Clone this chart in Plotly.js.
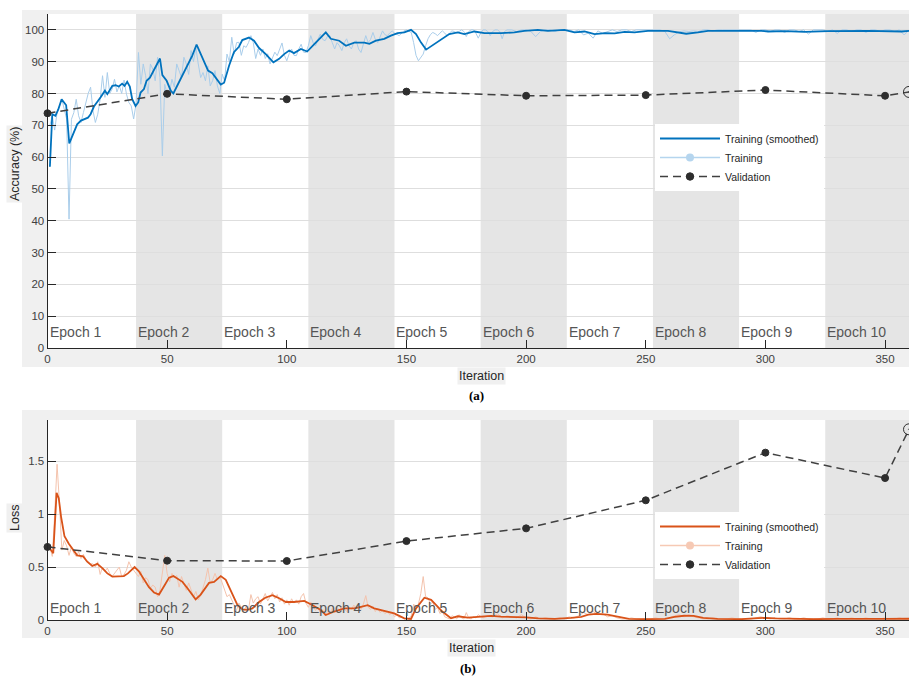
<!DOCTYPE html>
<html><head><meta charset="utf-8">
<script src="https://cdn.plot.ly/plotly-3.0.1.min.js"></script>
<style>html,body{margin:0;padding:0;background:#fff}#chart{width:909px;height:679px}</style>
</head><body><div id="chart"></div>
<script>
// ---------- data ----------
const epochNames = ['Epoch 1','Epoch 2','Epoch 3','Epoch 4','Epoch 5','Epoch 6','Epoch 7','Epoch 8','Epoch 9','Epoch 10'];
const epochStart = [1,37,73,109,145,181,217,253,289,325];
const epochEnd   = [37,73,109,145,181,217,253,289,325,361];
const xTicks = [0,50,100,150,200,250,300,350];
const accTicks = [0,10,20,30,40,50,60,70,80,90,100];
const lossTicks = [0,0.5,1,1.5];

// smoothed training accuracy (iteration, %)
const accSmIter = [1,2,3.3,4.5,5.9,7.8,9.1,10.5,12.4,14,15.9,16.9,18,19.4,22.2,24,25,27.1,28.5,29.8,31.2,32.2,33.3,34.4,35.4,36.8,37.9,38.9,40.3,41.4,42.8,44.5,47,48,49.8,51.5,52.6,54.3,56.4,58.5,60.5,62.3,64,65.4,67.1,68.9,70.7,72.4,73.8,75.9,77.9,80,81.4,84.2,86.3,88.4,91.2,92.6,94.4,96.8,98.9,101,103,105.9,108.5,112.1,116.3,118.4,121.9,124.7,128.2,132.4,134.5,137.2,140.7,143.5,146.3,149.1,151.9,154,156.1,158.2,161.6,164.4,167.9,171.4,174.2,178.4,182.6,189.5,195.1,199.3,204.9,209.1,216,220.2,224.4,228.6,233,237,241.2,245.3,250.9,259.3,262.8,266.9,271.8,276,298.3,301.1,308,316.4,326.2,342.9,356.9,360];
const accSm = [57,73.5,73,75,78.2,76.3,64.3,67,70.3,71.5,72.2,72.4,73.5,75.9,78.8,80.9,79.8,82.4,82.6,82.2,83.1,82.4,83.7,82.2,78.2,76.1,77.2,80.3,81.4,84,85,87.4,91,85.8,84,80.9,80,82.6,85.6,88.8,91.9,95.4,92.6,89.8,87.2,86.4,84.5,82.8,83.4,88.8,93,94.7,96.8,97.6,96.6,94.3,92.4,91.4,89.8,90.9,92.4,93.5,92.7,94,93.2,96,99.2,97.2,96.6,95,96,96,95.6,96.6,97.2,98.2,99,99.2,100,98.7,96,93.8,95.6,96.9,98.7,99.2,98.7,99.5,99,99,99.2,99.7,100,99.7,100,99.2,99.5,98.7,99,98.9,99.4,99.2,99.7,99.7,99.2,98.8,99.2,99.7,99.7,99.5,99.6,99.4,99.6,99.7,99.5,99.7];

// raw training accuracy: iterations 1..192 every iteration, then 194..360 every 2
const rawAccA = [70,73,68.5,74,76,78.2,75,72,40.5,71.9,
74,78.2,73,70.9,74,77.2,80,82,74.6,70.9,
73.5,78.2,85.6,78.8,86.6,80,81.4,84.5,80.5,82.5,
80,84.2,79.8,77.2,76.1,72,76.7,92.9,82.9,89.3,
85.6,80,89.3,87.7,84,91.4,85,60.4,82.9,79.8,
80.5,84.5,82,89.3,87.2,85,91.4,89.3,86,93.5,
90,94.5,89.3,85,86.6,84,88.7,82.4,84,87.2,
82.4,80,86.1,84,92.4,90,97.7,92.4,96,96.1,
92,95,94.5,96,98.2,96,91,94,92,94,
91,92.5,89.3,91,93,91.9,94,95.9,92,90.3,
92.5,94,92,91.9,94,95.5,93,92.9,95,98.2,
96,95,97,98.7,97,96.6,98,98.2,96,94,
96,95,93.5,96,97.2,95,94,96,96.6,94,
92.9,96,98.2,96,97,99.2,97,96,98,99.7,
98.5,98.2,99,99.7,99,98.5,98.2,99,99.7,100,
99.5,99.2,96,92,90.3,91.5,92.4,95,97.2,98.5,
99.2,98.8,98.2,99,99.7,99,98.2,99,99.7,99.5,
99,99.5,100,99.5,97.9,99.5,100,100,99,97.4,
99,100,100,99.5,98.2,99.5,100,100,99.5,97.2,
99.5,100];
const rawAccB = [100,99.5,100,100,99.5,97.9,99.5,100,100,99.5,
100,100,100,99.5,100,98.4,99,97.4,99.7,98.9,
99.4,100,99.5,100,100,99.5,100,100,100,100,
100,100,99.5,97.2,98.5,99.4,99.7,99.5,99.7,99.5,
100,100,99.7,100,100,100,100,100,100,100,
100,99.2,100,100,99.5,100,100,99.2,100,100,
99.5,100,98.7,100,100,100,99.5,100,98.9,100,
100,99.5,100,100,99.2,100,100,99.5,100,100,
99.5,100,98.4,100];

// smoothed training loss
const lossSmIter = [0.5,1.5,2.4,3.8,4.7,5.7,7.1,8.9,11,12.4,14.9,16.6,18.7,20.8,22.9,25,27.1,29.8,31.9,33.6,36.4,38.2,40.3,42.4,44.5,46.6,49,50.8,52.6,54.3,56.4,58.5,60.5,61.9,64,66.1,67.5,69.6,72.4,74.5,77.3,79.4,81.5,83.5,85.6,88.4,91,94,96.8,99.6,103,107.3,110.8,114.2,116.3,119.8,124,128.2,131,133.8,136.5,140.7,144.9,149.1,151.9,154,157.5,160.3,163,165,168.6,171.4,175.6,181.2,185.4,189.5,195,200,205,212,218.8,223,226,229.3,234,238.3,243,250,258,262,266,270,274,280,290,297,300,304,310,320,330,340,350,360];
const lossSm = [0.69,0.66,0.63,1.20,1.15,0.97,0.79,0.72,0.66,0.61,0.60,0.55,0.51,0.53,0.49,0.44,0.41,0.415,0.415,0.44,0.50,0.46,0.38,0.31,0.26,0.24,0.33,0.40,0.415,0.39,0.36,0.30,0.24,0.195,0.24,0.30,0.35,0.36,0.415,0.38,0.25,0.14,0.10,0.095,0.11,0.17,0.21,0.235,0.205,0.17,0.17,0.18,0.14,0.094,0.047,0.08,0.11,0.11,0.125,0.14,0.11,0.088,0.063,0.016,0.01,0.11,0.21,0.19,0.125,0.08,0.016,0.035,0.022,0.028,0.038,0.031,0.03,0.025,0.015,0.01,0.02,0.03,0.05,0.057,0.05,0.03,0.01,0.008,0.01,0.03,0.04,0.038,0.02,0.01,0.008,0.018,0.02,0.015,0.01,0.008,0.01,0.008,0.01,0.012];

// raw training loss: iterations 1..180 every iteration, then 182..360 every 2
const rawLossA = [0.69,0.6,1.0,1.47,1.1,0.66,0.75,0.7,0.61,0.69,
0.63,0.60,0.645,0.58,0.62,0.57,0.55,0.53,0.53,0.5,
0.55,0.43,0.50,0.46,0.49,0.44,0.41,0.44,0.46,0.50,
0.41,0.43,0.47,0.55,0.50,0.47,0.43,0.41,0.46,0.35,
0.40,0.38,0.30,0.33,0.31,0.22,0.28,0.45,0.61,0.44,
0.36,0.44,0.40,0.42,0.31,0.41,0.35,0.28,0.35,0.28,
0.22,0.27,0.19,0.23,0.31,0.38,0.49,0.35,0.38,0.44,
0.38,0.41,0.35,0.28,0.22,0.24,0.19,0.15,0.09,0.16,
0.12,0.08,0.13,0.10,0.24,0.16,0.20,0.22,0.15,0.20,
0.25,0.18,0.22,0.26,0.20,0.24,0.17,0.21,0.15,0.19,
0.14,0.20,0.16,0.19,0.15,0.22,0.25,0.16,0.12,0.17,
0.13,0.09,0.12,0.07,0.10,0.04,0.08,0.06,0.11,0.08,
0.12,0.09,0.13,0.10,0.08,0.12,0.10,0.14,0.11,0.13,
0.10,0.15,0.23,0.12,0.10,0.13,0.08,0.11,0.07,0.09,
0.06,0.08,0.05,0.07,0.03,0.05,0.02,0.03,0.01,0.02,
0.01,0.04,0.15,0.12,0.15,0.25,0.41,0.22,0.21,0.15,
0.17,0.10,0.12,0.06,0.08,0.03,0.02,0.01,0.04,0.03,
0.01,0.05,0.02,0.01,0.07,0.02,0.01,0.03,0.02,0.05];
const rawLossB = [0.02,0.04,0.03,0.06,0.02,0.04,0.03,0.02,0.05,0.02,
0.01,0.03,0.01,0.02,0.01,0.01,0.02,0.01,0.03,0.02,
0.04,0.07,0.05,0.08,0.05,0.06,0.03,0.04,0.02,0.01,
0.01,0.02,0.01,0.01,0.01,0.01,0.02,0.01,0.01,0.02,
0.04,0.05,0.03,0.05,0.03,0.02,0.01,0.01,0.02,0.01,
0.01,0.01,0.02,0.01,0.01,0.01,0.01,0.02,0.03,0.02,
0.01,0.02,0.01,0.01,0.02,0.01,0.01,0.02,0.01,0.01,
0.01,0.02,0.01,0.01,0.02,0.01,0.01,0.02,0.01,0.01,
0.02,0.01,0.01,0.01,0.02,0.01,0.01,0.02,0.01,0.01];

// validation
const valIter = [0,50,100,150,200,250,300,350,360];
const valAcc  = [73.8,79.9,78.2,80.6,79.3,79.5,81.1,79.3,80.5];
const valLoss = [0.69,0.56,0.557,0.745,0.865,1.13,1.58,1.34,1.80];

// ---------- build ----------
function iterRange(a,b,step){const r=[];for(let i=a;i<=b;i+=step)r.push(i);return r;}
const rawAccIter = iterRange(1,192,1).concat(iterRange(194,360,2));
const rawAcc = rawAccA.concat(rawAccB);
const rawLossIter = iterRange(1,180,1).concat(iterRange(182,360,2));
const rawLoss = rawLossA.concat(rawLossB);

const W=909,H=679;
const fx = p => p/W, fy = p => 1 - p/H;
const FONT = 'Liberation Sans, Arial, sans-serif';
const BLUE='#0072BD', LBLUE='#a9cdea', ORANGE='#D95319', LORANGE='#f4c3ad', VAL='#2e2e2e';
const valSym = valIter.map((v,i)=> i===valIter.length-1 ? 'circle-open-dot' : 'circle');
const valSize = valIter.map((v,i)=> i===valIter.length-1 ? 11 : 7);

const traces = [
  {x:rawAccIter,y:rawAcc,mode:'lines',line:{color:LBLUE,width:1},showlegend:false,xaxis:'x',yaxis:'y'},
  {x:accSmIter,y:accSm,mode:'lines',line:{color:BLUE,width:1.8},name:'Training (smoothed)',xaxis:'x',yaxis:'y',legend:'legend'},
  {x:[null],y:[null],mode:'lines+markers',line:{color:'#b5d5ee',width:1.5},marker:{color:'#b5d5ee',size:8},name:'Training',xaxis:'x',yaxis:'y',legend:'legend'},
  {x:valIter,y:valAcc,mode:'lines+markers',line:{color:'#404040',width:1.5,dash:'8px,5px'},marker:{color:VAL,size:valSize,symbol:valSym,opacity:1,line:{color:VAL,width:1}},name:'Validation',xaxis:'x',yaxis:'y',legend:'legend',cliponaxis:false},

  {x:rawLossIter,y:rawLoss,mode:'lines',line:{color:LORANGE,width:1},showlegend:false,xaxis:'x2',yaxis:'y2'},
  {x:lossSmIter,y:lossSm,mode:'lines',line:{color:ORANGE,width:1.8},name:'Training (smoothed)',xaxis:'x2',yaxis:'y2',legend:'legend2'},
  {x:[null],y:[null],mode:'lines+markers',line:{color:'#f6c9b4',width:1.5},marker:{color:'#f6c9b4',size:8},name:'Training',xaxis:'x2',yaxis:'y2',legend:'legend2'},
  {x:valIter,y:valLoss,mode:'lines+markers',line:{color:'#404040',width:1.5,dash:'8px,5px'},marker:{color:VAL,size:valSize,symbol:valSym,opacity:1,line:{color:VAL,width:1}},name:'Validation',xaxis:'x2',yaxis:'y2',legend:'legend2',cliponaxis:false}
];

// panels
const LEFT = 47.5;
const panels = [
  {x0:22,x1:909,y0:10,y1:367, p0:14,p1:348, xr:'x'},
  {x0:22,x1:909,y0:410,y1:638, p0:420,p1:620, xr:'x2'}
];
const shapes = [];
panels.forEach(p=>{
  shapes.push({type:'rect',xref:'paper',yref:'paper',x0:fx(p.x0),x1:fx(p.x1),y0:fy(p.y1),y1:fy(p.y0),fillcolor:'#f0f0f0',line:{width:0},layer:'below'});
  shapes.push({type:'rect',xref:'paper',yref:'paper',x0:fx(LEFT),x1:1,y0:fy(p.p1),y1:fy(p.p0),fillcolor:'#ffffff',line:{width:0},layer:'below'});
  epochStart.forEach((s,i)=>{
    if(i%2===1) shapes.push({type:'rect',xref:p.xr,yref:'paper',x0:s,x1:epochEnd[i],y0:fy(p.p1),y1:fy(p.p0),fillcolor:'#e5e5e5',line:{width:0},layer:'below'});
  });
});

const annotations = [];
const epochY = [332,608];
[['x',0],['x2',1]].forEach(([xr,k])=>{
  epochStart.forEach((s,i)=>{
    annotations.push({xref:xr,yref:'paper',x:i===0?0:s,y:fy(epochY[k]),xanchor:'left',yanchor:'middle',text:epochNames[i],showarrow:false,font:{family:FONT,size:14,color:'#555555'},xshift:0});
  });
});
const lab = (x,y,t,ang)=>({xref:'paper',yref:'paper',x:fx(x),y:fy(y),xanchor:'center',yanchor:'middle',text:t,textangle:ang||0,showarrow:false,bgcolor:'#f0f0f0',font:{family:FONT,size:12.5,color:'#262626'}});
annotations.push(lab(15,164,'Accuracy (%)',-90));
annotations.push(lab(481,376,'Iteration'));
annotations.push(lab(15,518,'Loss',-90));
annotations.push(lab(471,648,'Iteration'));
annotations.push({xref:'paper',yref:'paper',x:fx(476),y:fy(395),xanchor:'center',yanchor:'middle',text:'<b>(a)</b>',showarrow:false,font:{family:'Liberation Serif, Times New Roman, serif',size:13,color:'#000'}});
annotations.push({xref:'paper',yref:'paper',x:fx(468),y:fy(668),xanchor:'center',yanchor:'middle',text:'<b>(b)</b>',showarrow:false,font:{family:'Liberation Serif, Times New Roman, serif',size:13,color:'#000'}});

const tickFont = {family:FONT,size:11.5,color:'#404040'};
const xCommon = {range:[0,360],tickvals:xTicks,ticks:'inside',ticklen:8,tickcolor:'#262626',showline:true,linecolor:'#262626',linewidth:1,showgrid:false,zeroline:false,tickfont:tickFont,fixedrange:true};
const yCommon = {ticks:'inside',ticklen:8,tickcolor:'#262626',showline:true,linecolor:'#262626',linewidth:1,showgrid:true,gridcolor:'#dedede',gridwidth:1,zeroline:false,tickfont:tickFont,fixedrange:true};
const legCommon = {bgcolor:'#ffffff',borderwidth:0,xanchor:'left',yanchor:'top',font:{family:FONT,size:10.5,color:'#262626'},itemwidth:60,traceorder:'normal'};

const layout = {
  width:W,height:H,margin:{l:0,r:0,t:0,b:0},
  paper_bgcolor:'#ffffff',plot_bgcolor:'rgba(0,0,0,0)',
  xaxis:Object.assign({},xCommon,{domain:[fx(LEFT),1],anchor:'y'}),
  yaxis:Object.assign({},yCommon,{domain:[fy(348),fy(14)],range:[0,105],tickvals:accTicks,anchor:'x'}),
  xaxis2:Object.assign({},xCommon,{domain:[fx(LEFT),1],anchor:'y2'}),
  yaxis2:Object.assign({},yCommon,{domain:[fy(620),fy(420)],range:[0,1.888],tickvals:lossTicks,ticktext:['0','0.5','1','1.5'],anchor:'x2'}),
  legend:Object.assign({},legCommon,{x:fx(655),y:fy(124)}),
  legend2:Object.assign({},legCommon,{x:fx(655),y:fy(512)}),
  shapes:shapes,annotations:annotations,hovermode:false,showlegend:true
};
Plotly.newPlot('chart',traces,layout,{staticPlot:true,displayModeBar:false});
</script>
</body></html>
